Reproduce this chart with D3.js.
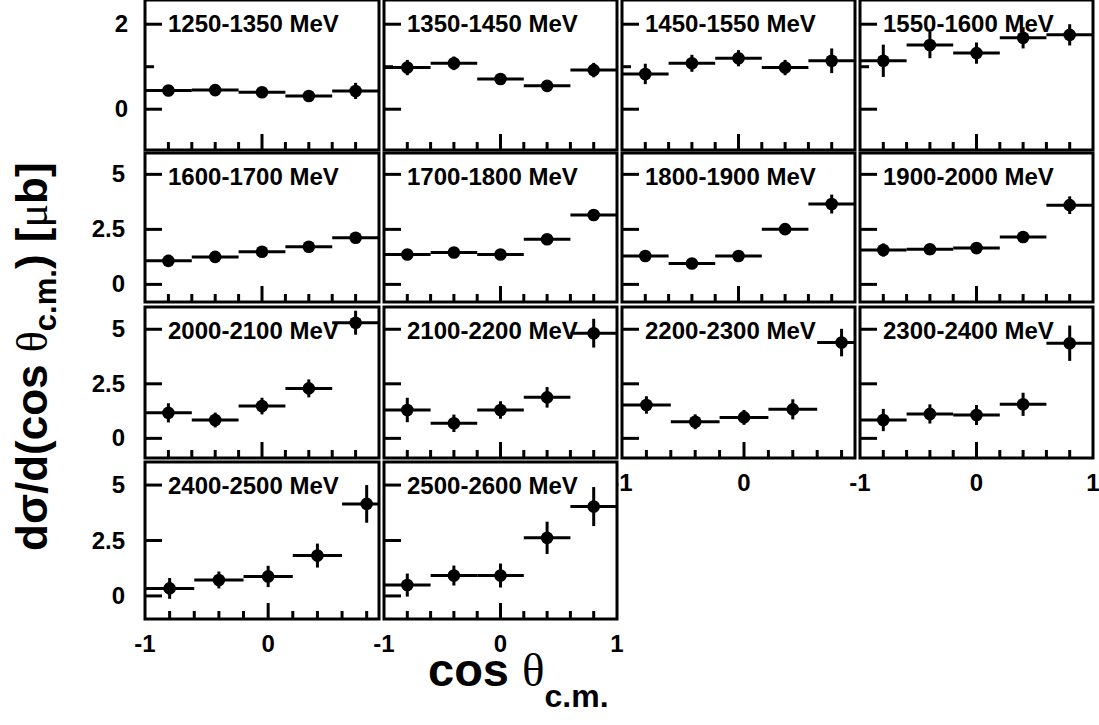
<!DOCTYPE html>
<html>
<head>
<meta charset="utf-8">
<script src="https://cdn.jsdelivr.net/npm/d3@7"></script>
<style>
  body { margin: 0; background: #fff; }
  svg { display: block; }
  text { font-family: "Liberation Sans", Arial, sans-serif; font-weight: bold; fill: #000; }
</style>
</head>
<body>
<svg id="chart" width="1099" height="725"></svg>
<script>
// energy bins, one panel each
var energies = ["1250-1350 MeV", "1350-1450 MeV", "1450-1550 MeV", "1550-1600 MeV",
                "1600-1700 MeV", "1700-1800 MeV", "1800-1900 MeV", "1900-2000 MeV",
                "2000-2100 MeV", "2100-2200 MeV", "2200-2300 MeV", "2300-2400 MeV",
                "2400-2500 MeV", "2500-2600 MeV"];
// cos theta bin centres and half width
var cosBins = [-0.8, -0.4, 0, 0.4, 0.8];
var binHalf = 0.2;
// dsigma/dcos in microbarn
var xsec = [
  [0.44, 0.45, 0.40, 0.31, 0.43],
  [0.98, 1.08, 0.71, 0.55, 0.92],
  [0.83, 1.08, 1.20, 0.98, 1.14],
  [1.14, 1.51, 1.32, 1.68, 1.75],
  [1.07, 1.25, 1.48, 1.71, 2.12],
  [1.36, 1.45, 1.36, 2.05, 3.15],
  [1.29, 0.95, 1.29, 2.51, 3.65],
  [1.56, 1.60, 1.65, 2.15, 3.60],
  [1.17, 0.84, 1.48, 2.29, 5.30],
  [1.30, 0.69, 1.30, 1.88, 4.82],
  [1.53, 0.76, 0.96, 1.33, 4.39],
  [0.84, 1.12, 1.07, 1.56, 4.36],
  [0.34, 0.72, 0.88, 1.82, 4.15],
  [0.49, 0.92, 0.92, 2.62, 4.03]
];
var xsecErr = [
  [0.08, 0.08, 0.08, 0.08, 0.19],
  [0.18, 0.16, 0.12, 0.12, 0.17],
  [0.24, 0.20, 0.19, 0.18, 0.29],
  [0.38, 0.31, 0.25, 0.25, 0.25],
  [0.10, 0.10, 0.10, 0.12, 0.14],
  [0.12, 0.12, 0.12, 0.15, 0.18],
  [0.20, 0.15, 0.15, 0.20, 0.43],
  [0.30, 0.25, 0.20, 0.25, 0.40],
  [0.44, 0.34, 0.38, 0.41, 0.55],
  [0.56, 0.40, 0.40, 0.47, 0.66],
  [0.40, 0.34, 0.34, 0.46, 0.63],
  [0.51, 0.44, 0.46, 0.53, 0.81],
  [0.47, 0.38, 0.48, 0.54, 0.85],
  [0.52, 0.45, 0.54, 0.73, 0.88]
];
// axis ticks
var yTicksFirst = [0, 1, 2], yLabelsFirst = [0, 2];
var yTicksOther = [0, 2.5, 5], yLabelsOther = [0, 2.5, 5];
var xMinor = [-0.8, -0.6, -0.4, -0.2, 0.2, 0.4, 0.6, 0.8];
var xLabels = [-1, 0, 1];

// pad layout (4 x 4, last row has two pads)
var colLeft = [145, 384, 622, 860], colRight = [379, 617, 855, 1093];
var rowTop = [0, 153, 307, 462], rowBottom = [150, 302, 458, 619];
var rowDomain = [[-0.96, 2.57], [-0.8, 5.97], [-0.9, 6.02], [-1.04, 6.04]];
// pads carrying the x labels are a bit stretched and cut by their neighbour
var stretched = {10: 0.91, 12: 0.9};
var labelled = [10, 11, 12, 13];

var svg = d3.select("#chart");
var defs = svg.append("defs");

energies.forEach(function(name, i) {
  var row = Math.floor(i / 4), col = i % 4;
  var x0 = colLeft[col], x1 = colRight[col], y0 = rowTop[row], y1 = rowBottom[row];
  var xHi = stretched[i] || 1;

  var x = d3.scaleLinear().domain([-1, xHi]).range([x0, x1]);
  var y = d3.scaleLinear().domain(rowDomain[row]).range([y1, y0]);

  var g = svg.append("g").attr("class", "pad");

  defs.append("clipPath").attr("id", "clip" + i)
    .append("rect").attr("x", x0).attr("y", y0).attr("width", x1 - x0).attr("height", y1 - y0);

  g.append("rect")
    .attr("x", x0).attr("y", y0)
    .attr("width", x1 - x0).attr("height", y1 - y0)
    .attr("fill", "#fff");

  var pts = cosBins.map(function(c, k) { return {c: c, v: xsec[i][k], e: xsecErr[i][k]}; });
  var data = g.append("g").attr("clip-path", "url(#clip" + i + ")");

  data.selectAll(".hbar").data(pts).enter().append("line")
    .attr("x1", function(d) { return x(d.c - binHalf); })
    .attr("x2", function(d) { return x(d.c + binHalf); })
    .attr("y1", function(d) { return y(d.v); })
    .attr("y2", function(d) { return y(d.v); })
    .attr("stroke", "#000").attr("stroke-width", 3);

  data.selectAll(".vbar").data(pts).enter().append("line")
    .attr("x1", function(d) { return x(d.c); })
    .attr("x2", function(d) { return x(d.c); })
    .attr("y1", function(d) { return y(d.v - d.e); })
    .attr("y2", function(d) { return y(d.v + d.e); })
    .attr("stroke", "#000").attr("stroke-width", 3);

  data.selectAll("circle").data(pts).enter().append("circle")
    .attr("cx", function(d) { return x(d.c); })
    .attr("cy", function(d) { return y(d.v); })
    .attr("r", 6.3)
    .attr("fill", "#000");

  // x ticks along the bottom
  g.selectAll(".xminor").data(xMinor.filter(function(t) { return t < xHi; })).enter().append("line")
    .attr("x1", x).attr("x2", x)
    .attr("y1", y1).attr("y2", y1 - 8)
    .attr("stroke", "#000").attr("stroke-width", 3);
  g.append("line")
    .attr("x1", x(0)).attr("x2", x(0))
    .attr("y1", y1).attr("y2", y1 - 16)
    .attr("stroke", "#000").attr("stroke-width", 3);

  // y ticks along the left
  var yt = row === 0 ? yTicksFirst : yTicksOther;
  g.selectAll(".ytick").data(yt).enter().append("line")
    .attr("x1", x0)
    .attr("x2", function(t) { return (row === 0 && t === 1) ? x0 + 9 : x0 + 17; })
    .attr("y1", y).attr("y2", y)
    .attr("stroke", "#000").attr("stroke-width", 3);

  g.append("rect")
    .attr("x", x0).attr("y", y0)
    .attr("width", x1 - x0).attr("height", y1 - y0)
    .attr("fill", "none").attr("stroke", "#000").attr("stroke-width", 3);

  g.append("text")
    .attr("x", x0 + 23).attr("y", y0 + 32)
    .attr("font-size", 24)
    .text(name);

  if (col === 0) {
    var yl = row === 0 ? yLabelsFirst : yLabelsOther;
    g.selectAll(".ylab").data(yl).enter().append("text")
      .attr("x", row === 0 ? 128 : 125)
      .attr("y", function(t) { return y(t) + 8; })
      .attr("text-anchor", "end")
      .attr("font-size", 24)
      .text(function(t) { return t; });
  }

  if (labelled.indexOf(i) >= 0) {
    g.selectAll(".xlab").data(xLabels.filter(function(t) { return t <= xHi; })).enter().append("text")
      .attr("x", x)
      .attr("y", y1 + 33)
      .attr("text-anchor", "middle")
      .attr("font-size", 24)
      .text(function(t) { return t; });
  }
});

// axis titles
var yTitle = svg.append("text")
  .attr("transform", "translate(47,551) rotate(-90)")
  .attr("font-size", 44);
yTitle.append("tspan").text("d\u03c3/d(cos ");
yTitle.append("tspan").attr("font-family", "Liberation Serif").attr("font-weight", "normal").text("\u03b8");
yTitle.append("tspan").attr("font-size", 31).attr("dy", 9).text("c.m.");
yTitle.append("tspan").attr("dy", -9).text(") [");
yTitle.append("tspan").attr("font-family", "Liberation Serif").attr("font-weight", "normal").text("\u03bc");
yTitle.append("tspan").text("b]");

var xTitle = svg.append("text")
  .attr("x", 428).attr("y", 686)
  .attr("font-size", 47);
xTitle.append("tspan").text("cos ");
xTitle.append("tspan").attr("font-family", "Liberation Serif").attr("font-weight", "normal").text("\u03b8");
xTitle.append("tspan").attr("font-size", 32).attr("dy", 21).text("c.m.");
</script>
</body>
</html>
